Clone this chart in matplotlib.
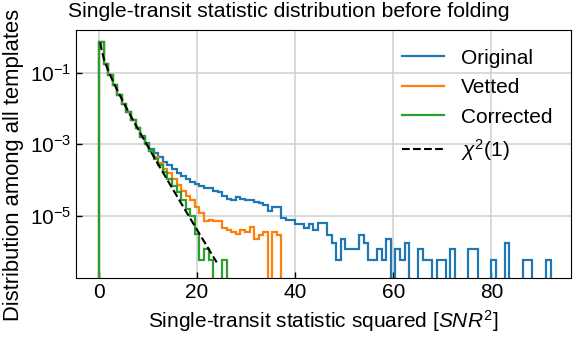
import numpy as np
import matplotlib
matplotlib.use("Agg")
import matplotlib.pyplot as plt
from matplotlib.ticker import NullLocator

plt.rcParams['font.family'] = ['Liberation Sans', 'DejaVu Sans']
plt.rcParams['font.size'] = 15
plt.rcParams['mathtext.fontset'] = 'custom'
plt.rcParams['mathtext.rm'] = 'Liberation Sans'
plt.rcParams['mathtext.it'] = 'Liberation Sans:italic'

# histogram bins (shared by all three samples)
bin_width = 0.93
n_bins = 99

# density per bin
original = [
    0.715, 0.174, 0.0837, 0.0442, 0.0245, 0.0136, 0.0080, 0.0047, 0.0028, 1.72e-3,
    1.10e-3, 7.5e-4, 5.6e-4, 4.3e-4, 3.3e-4, 2.6e-4, 2.05e-4, 1.6e-4, 1.3e-4, 1.07e-4,
    9.1e-5, 7.8e-5, 6.9e-5, 6.0e-5, 6.2e-5, 4.9e-5, 4.5e-5, 3.6e-5, 2.9e-5, 2.8e-5,
    3.4e-5, 2.9e-5, 2.8e-5, 2.7e-5, 2.5e-5, 2.25e-5, 2.0e-5, 1.4e-5, 1.8e-5, 1.8e-5,
    8.6e-6, 7.7e-6, 7.7e-6, 5.9e-6, 5.9e-6, 4.5e-6, 5.9e-6, 4.0e-6, 6.5e-6, 6.5e-6,
    2.9e-6, 1.8e-6, 5.9e-7, 2.3e-6, 1.2e-6, 1.2e-6, 1.2e-6, 2.9e-6, 1.8e-6, 5.9e-7,
    5.9e-7, 1.2e-6, 5.9e-7, 2.3e-6, 0, 1.2e-6, 5.9e-7, 1.8e-6, 0, 0,
    1.2e-6, 5.9e-7, 5.9e-7, 0, 5.9e-7, 5.9e-7, 0, 1.2e-6, 0, 0,
    0, 1.2e-6, 1.2e-6, 0, 0, 0, 5.9e-7, 0, 0, 1.8e-6,
    0, 0, 0, 5.9e-7, 5.9e-7, 0, 0, 0, 5.9e-7,
]
vetted = [
    0.715, 0.174, 0.0837, 0.0442, 0.0245, 0.0136, 0.0080, 0.0047, 0.0028, 1.65e-3,
    1.0e-3, 6.4e-4, 4.3e-4, 3.0e-4, 2.1e-4, 1.55e-4, 1.1e-4, 7.5e-5, 4.8e-5, 3.6e-5,
    2.7e-5, 1.8e-5, 1.2e-5, 7.0e-6, 7.6e-6, 7.0e-6, 7.4e-6, 4.6e-6, 4.1e-6, 3.5e-6,
    3.2e-6, 4.1e-6, 3.5e-6, 5.0e-6, 2.3e-6, 2.9e-6, 3.5e-6, 0, 3.5e-6, 2.9e-6,
]
corrected = [
    0.715, 0.174, 0.0837, 0.0442, 0.0245, 0.0136, 0.0080, 0.0047, 0.0028, 1.65e-3,
    1.0e-3, 6.3e-4, 4.0e-4, 2.6e-4, 1.7e-4, 1.1e-4, 7.0e-5, 4.5e-5, 2.8e-5, 1.6e-5,
    1.0e-5, 3.2e-6, 5.9e-7, 1.2e-6, 5.9e-7, 0, 0, 5.9e-7,
]

# chi2(1) reference curve
chi2_x = [0.25, 0.5, 1, 1.5, 2, 3, 4, 5, 6, 7, 8, 9, 10, 11, 12, 13, 14, 15,
          16, 17, 18, 19, 20, 21, 22, 23, 24]
chi2_pdf = [0.704, 0.4394, 0.2420, 0.1539, 0.1038, 0.0514, 0.0270, 0.01464,
            8.109e-3, 4.553e-3, 2.584e-3, 1.477e-3, 8.50e-4, 4.916e-4, 2.855e-4,
            1.663e-4, 9.723e-5, 5.697e-5, 3.346e-5, 1.969e-5, 1.160e-5, 6.851e-6,
            4.050e-6, 2.397e-6, 1.420e-6, 8.428e-7, 5.003e-7]

edges = np.arange(n_bins + 1) * bin_width

fig = plt.figure(figsize=(5.78, 3.38), dpi=100)
ax = fig.add_axes([0.1315, 0.1766, 0.856, 0.7346])

ax.stairs(original, edges[:len(original) + 1], color='tab:blue', lw=1.6, label='Original')
ax.stairs(vetted, edges[:len(vetted) + 1], color='tab:orange', lw=1.6, label='Vetted')
ax.stairs(corrected, edges[:len(corrected) + 1], color='tab:green', lw=1.6, label='Corrected')
ax.plot(chi2_x, chi2_pdf, 'k--', lw=1.5, label=r'$\chi^2(1)$')

ax.set_yscale('log')
ax.set_xlim(-4.7, 96.2)
ax.set_ylim(1.8e-7, 1.56)
ax.set_xticks([0, 20, 40, 60, 80])
ax.set_yticks([1e-1, 1e-3, 1e-5])
ax.yaxis.set_minor_locator(NullLocator())
ax.tick_params(direction='in', length=4, width=1)
ax.grid(True, color='#d0d0d0', lw=1.1)
ax.set_axisbelow(True)

ax.set_xlabel(r'Single-transit statistic squared [$SNR^2$]')
ax.set_ylabel('Distribution among all templates', fontsize=15.8)
ax.yaxis.set_label_coords(-0.106, 0.455)
fig.suptitle('Single-transit statistic distribution before folding',
             fontsize=15.2, x=0.5, y=1 - 2 / 338, va='top')
ax.legend(loc='upper right', frameon=False)

fig.savefig('out.png', dpi=100)
